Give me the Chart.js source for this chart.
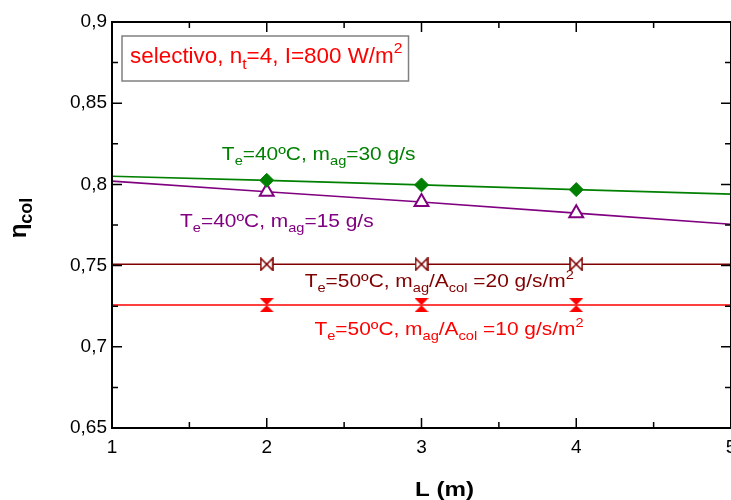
<!DOCTYPE html>
<html>
<head>
<meta charset="utf-8">
<script src="https://cdn.jsdelivr.net/npm/chart.js@4/dist/chart.umd.min.js"></script>
<style>
  html, body { margin:0; padding:0; background:#fff; }
</style>
</head>
<body>
<canvas id="c" width="731" height="500"></canvas>
<script>
// ── Data ────────────────────────────────────────────────────────
const lengths  = [1, 2, 3, 4, 5];
const eta40_30 = [0.805, 0.8025, 0.7997, 0.7968, 0.794];
const eta40_15 = [0.802, 0.7955, 0.7892, 0.7823, 0.7755];
const eta50_20 = [0.7508, 0.7508, 0.7508, 0.7508, 0.7508];
const eta50_10 = [0.7257, 0.7257, 0.7257, 0.7257, 0.7257];
const markerOn = [false, true, true, true, false];

const xTicks = [1, 2, 3, 4, 5];
const xMinor = [1.5, 2.5, 3.5, 4.5];
const yTicks = [0.65, 0.7, 0.75, 0.8, 0.85, 0.9];
const yTickLabels = ['0,65', '0,7', '0,75', '0,8', '0,85', '0,9'];
const yMinor = [0.675, 0.725, 0.775, 0.825, 0.875];

const seriesLabels = [
  'T_{e}=40ºC, m_{ag}=30 g/s',
  'T_{e}=40ºC, m_{ag}=15 g/s',
  'T_{e}=50ºC, m_{ag}/A_{col} =20 g/s/m^{2}',
  'T_{e}=50ºC, m_{ag}/A_{col} =10 g/s/m^{2}'
];
const boxLabel = 'selectivo, n_{t}=4, I=800 W/m^{2}';
const xTitle = 'L (m)';
const yTitle = 'η_{col}';

// ── Styling / layout ────────────────────────────────────────────
const colors = ['#008000', '#800080', '#800000', '#ff0000'];
const labelAt = [[1.71, 0.8153], [1.44, 0.7738], [2.245, 0.7368], [2.308, 0.7071]];
const FONT = '"Liberation Sans", Arial, Helvetica, sans-serif';

// ── Rich text helpers (sub/superscripts) ────────────────────────
function parseRich(s) {
  const runs = [];
  const re = /([_^])\{([^}]*)\}|([^_^]+)/g;
  let m;
  while ((m = re.exec(s))) {
    if (m[3]) runs.push({ t: m[3], k: 0 });
    else runs.push({ t: m[2], k: m[1] === '_' ? 1 : -1 });
  }
  return runs;
}

function drawRich(ctx, s, x, y, o, measureOnly) {
  const runs = parseRich(s);
  const sx = o.sx || 1;
  const subScale = o.subScale || 0.7;
  ctx.save();
  ctx.translate(x, y);
  if (o.rotate) ctx.rotate(o.rotate);
  ctx.scale(sx, 1);
  ctx.fillStyle = o.color;
  ctx.textBaseline = 'alphabetic';
  ctx.textAlign = 'left';
  let cx = 0;
  runs.forEach(r => {
    const fs = r.k ? o.size * subScale : o.size;
    ctx.font = (o.bold ? 'bold ' : '') + fs + 'px ' + FONT;
    const dy = r.k === 1 ? o.size * (o.subShift || 0.27) : r.k === -1 ? -o.size * 0.45 : 0;
    if (!measureOnly) ctx.fillText(r.t, cx + (o.dx || 0), dy);
    cx += ctx.measureText(r.t).width;
  });
  ctx.restore();
  return cx * sx;
}

// ── Custom markers ──────────────────────────────────────────────
function makeMarker(draw) {
  const c = document.createElement('canvas');
  c.width = 14; c.height = 14;
  draw(c.getContext('2d'));
  return c;
}
const bowtie = makeMarker(ctx => {
  ctx.strokeStyle = colors[2]; ctx.fillStyle = '#fff'; ctx.lineWidth = 1.6;
  ctx.beginPath();
  ctx.moveTo(1, 1); ctx.lineTo(13, 13); ctx.lineTo(13, 1); ctx.lineTo(1, 13);
  ctx.closePath(); ctx.fill(); ctx.stroke();
});
const hourglass = makeMarker(ctx => {
  ctx.fillStyle = colors[3];
  ctx.beginPath();
  ctx.moveTo(0, 0); ctx.lineTo(14, 0); ctx.lineTo(0, 14); ctx.lineTo(14, 14);
  ctx.closePath(); ctx.fill();
});

const pts = arr => lengths.map((x, i) => ({ x, y: arr[i] }));
const radii = r => markerOn.map(m => m ? r : 0);

// ── Frame, inward ticks, annotations ────────────────────────────
const decorations = {
  id: 'decorations',
  afterDatasetsDraw(chart) {
    const { ctx, chartArea: a, scales: { x, y } } = chart;
    ctx.save();
    ctx.strokeStyle = '#000';
    ctx.lineWidth = 2;
    ctx.strokeRect(a.left, a.top, a.right - a.left, a.bottom - a.top);

    ctx.lineWidth = 1.5;
    ctx.beginPath();
    const xt = (v, len) => {
      const px = x.getPixelForValue(v);
      ctx.moveTo(px, a.bottom); ctx.lineTo(px, a.bottom - len);
      ctx.moveTo(px, a.top); ctx.lineTo(px, a.top + len);
    };
    const yt = (v, len) => {
      const py = y.getPixelForValue(v);
      ctx.moveTo(a.left, py); ctx.lineTo(a.left + len, py);
      ctx.moveTo(a.right, py); ctx.lineTo(a.right - len, py);
    };
    xTicks.forEach(v => xt(v, 10));
    xMinor.forEach(v => xt(v, 6));
    yTicks.forEach(v => yt(v, 10));
    yMinor.forEach(v => yt(v, 6));
    ctx.stroke();

    // series annotations
    seriesLabels.forEach((s, i) => {
      drawRich(ctx, s, x.getPixelForValue(labelAt[i][0]), y.getPixelForValue(labelAt[i][1]),
        { size: 18.5, color: colors[i], sx: 1.13 });
    });

    // boxed condition label
    const bo = { size: 22, color: '#ff0000', sx: 1.02 };
    const bx = a.left + 10, by = a.top + 14;
    const w = drawRich(ctx, boxLabel, 0, 0, bo, true);
    ctx.fillStyle = '#fff';
    ctx.fillRect(bx, by, w + 14, 45);
    ctx.strokeStyle = '#808080';
    ctx.lineWidth = 1.5;
    ctx.strokeRect(bx, by, w + 14, 45);
    drawRich(ctx, boxLabel, bx + 8, by + 27, bo);

    // axis titles
    const xo = { size: 21, bold: true, color: '#000', sx: 1.15 };
    const tw = drawRich(ctx, xTitle, 0, 0, xo, true);
    drawRich(ctx, xTitle, (a.left + a.right) / 2 - tw / 2 + 23, 496, xo);
    const yo = { size: 24, bold: true, color: '#000', subScale: 0.75, subShift: 0.25, rotate: -Math.PI / 2 };
    const yw = drawRich(ctx, yTitle, 0, 0, yo, true);
    yo.dx = -yw / 2;
    drawRich(ctx, yTitle, 26, 218, yo);
    ctx.restore();
  }
};

// ── Chart ───────────────────────────────────────────────────────
const lineDs = (arr, i, extra) => Object.assign({
  data: pts(arr),
  borderColor: colors[i],
  borderWidth: 1.6,
  backgroundColor: colors[i],
  fill: false,
  tension: 0,
  pointRadius: radii(7),
  pointHoverRadius: 0
}, extra);

new Chart(document.getElementById('c'), {
  type: 'line',
  data: {
    datasets: [
      lineDs(eta40_30, 0, { pointStyle: 'rectRot', pointBackgroundColor: colors[0], pointBorderColor: colors[0], pointBorderWidth: 1 }),
      lineDs(eta40_15, 1, { pointStyle: 'triangle', pointRadius: radii(8), pointBackgroundColor: '#fff', pointBorderColor: colors[1], pointBorderWidth: 2 }),
      lineDs(eta50_20, 2, { pointStyle: bowtie }),
      lineDs(eta50_10, 3, { pointStyle: hourglass })
    ]
  },
  options: {
    responsive: false,
    animation: false,
    events: [],
    layout: { padding: { top: 22, right: 0, bottom: 0, left: 0 } },
    plugins: { legend: { display: false }, tooltip: { enabled: false } },
    scales: {
      x: {
        type: 'linear', min: 1, max: 5,
        afterBuildTicks: s => { s.ticks = xTicks.map(v => ({ value: v })); },
        afterFit: s => { s.height = 72; s.paddingLeft = 0; s.paddingRight = 0; },
        ticks: { color: '#000', font: { family: FONT, size: 19 }, padding: 8, maxRotation: 0, callback: v => String(v) },
        grid: { display: false, drawTicks: false },
        border: { display: false }
      },
      y: {
        type: 'linear', min: 0.65, max: 0.9,
        afterBuildTicks: s => { s.ticks = yTicks.map(v => ({ value: v })); },
        afterFit: s => { s.width = 112; s.paddingTop = 0; s.paddingBottom = 0; },
        ticks: { color: '#000', font: { family: FONT, size: 19 }, padding: 5,
          callback: v => yTickLabels[yTicks.findIndex(t => Math.abs(t - v) < 1e-6)] },
        grid: { display: false, drawTicks: false },
        border: { display: false }
      }
    }
  },
  plugins: [decorations]
});
</script>
</body>
</html>
